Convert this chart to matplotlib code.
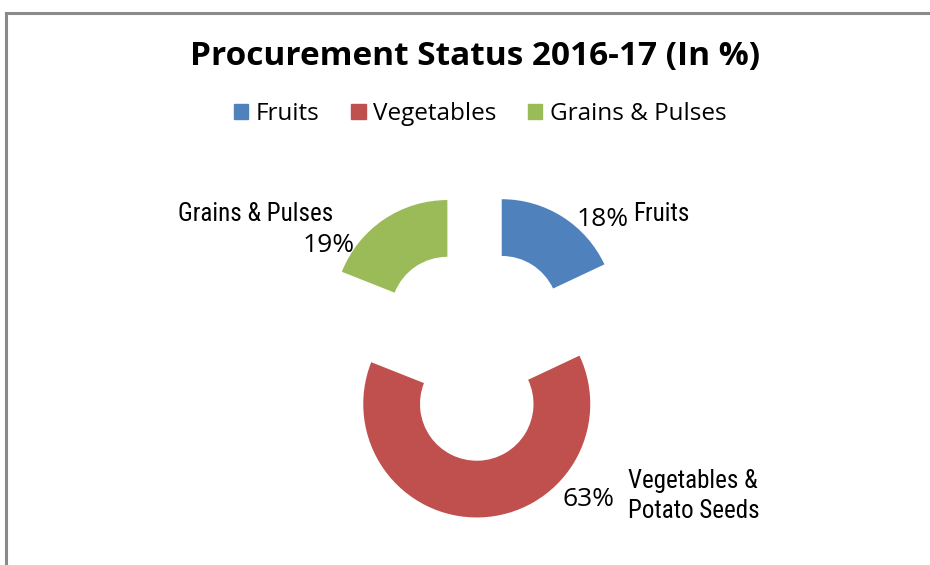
import matplotlib
matplotlib.use("Agg")
import matplotlib.pyplot as plt
from matplotlib.lines import Line2D
from matplotlib.patches import Rectangle

categories = ["Fruits", "Vegetables", "Grains & Pulses"]
values = [18, 63, 19]
slice_labels = ["Fruits", "Vegetables &\nPotato Seeds", "Grains & Pulses"]
colors = ["#4F81BD", "#C0504D", "#9BBB59"]
title = "Procurement Status 2016-17 (In %)"

W, H = 930, 565
fig = plt.figure(figsize=(W / 100, H / 100), dpi=100)
fig.patch.set_facecolor("white")

# frame border (top and left grey lines)
fig.add_artist(Line2D([6 / W, 1], [1 - 13 / H, 1 - 13 / H], color="#8a8a8a", lw=2.2))
fig.add_artist(Line2D([6 / W, 6 / W], [0, 1 - 13 / H], color="#8a8a8a", lw=2.2))

ax = fig.add_axes([0, 0, 1, 1])
cx, cy = 475.2, H - 354.5
R = 113.5
wedges, _ = ax.pie(values, colors=colors, startangle=90, counterclock=False,
                   radius=R, center=(cx, cy), explode=[49.5] * len(values),
                   wedgeprops=dict(width=R * 0.5, linewidth=0))
ax.set_xlim(0, W)
ax.set_ylim(0, H)
ax.set_aspect("equal")
ax.axis("off")

lab_font = ["Roboto Condensed", "Liberation Sans Narrow", "Open Sans Condensed", "Roboto", "DejaVu Sans"]
pct_font = ["Open Sans", "DejaVu Sans"]
LS = 18
PS = 19

# Fruits labels
ax.text(603, H - 219, f"{values[0]}%", fontsize=PS, family=pct_font, ha="center", va="center")
ax.text(633, H - 214, slice_labels[0], fontsize=LS, family=lab_font, ha="left", va="center")
# Vegetables labels
ax.text(589, H - 500, f"{values[1]}%", fontsize=PS, family=pct_font, ha="center", va="center")
ax.text(628, H - 496, slice_labels[1], fontsize=LS, family=lab_font, ha="left", va="center",
        linespacing=1.3)
# Grains labels
ax.text(178, H - 214, slice_labels[2], fontsize=LS, family=lab_font, ha="left", va="center")
ax.text(355, H - 245, f"{values[2]}%", fontsize=PS, family=pct_font, ha="right", va="center")

# title
fig.text(475 / W, 1 - 56 / H, title, fontsize=24, fontweight="bold",
         family=["Open Sans", "DejaVu Sans"], ha="center", va="center")

# legend
handles = [Rectangle((0, 0), 1, 1, color=c) for c in colors]
fig.legend(handles, categories, loc="center", bbox_to_anchor=(480 / W, 1 - 114 / H),
           ncol=3, frameon=False, prop=dict(family=["Open Sans", "DejaVu Sans"], size=17.5),
           handlelength=0.6, handleheight=0.6, handletextpad=0.3, columnspacing=1.3)

fig.savefig("out.png", dpi=100, facecolor="white")
